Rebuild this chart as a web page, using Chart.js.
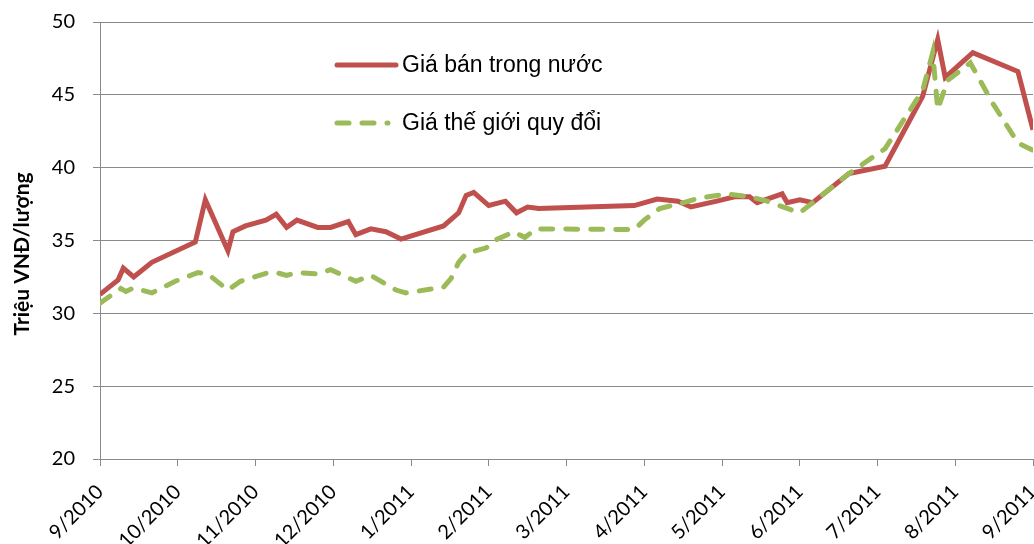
<!DOCTYPE html>
<html lang="vi">
<head>
<meta charset="utf-8">
<title>Giá vàng</title>
<script src="https://cdn.jsdelivr.net/npm/chart.js@4.4.1/dist/chart.umd.min.js"></script>
<style>
  html, body { margin: 0; padding: 0; background: #ffffff; overflow: hidden; }
  #wrap { width: 1034px; height: 544px; }
</style>
</head>
<body>
<div id="wrap"><canvas id="goldChart" width="1034" height="544"></canvas></div>
<script>
  // month labels on the x axis, one per tick
  const monthLabels = ["9/2010", "10/2010", "11/2010", "12/2010", "1/2011", "2/2011", "3/2011",
    "4/2011", "5/2011", "6/2011", "7/2011", "8/2011", "9/2011"];

  // Giá bán trong nước (triệu VNĐ/lượng)
  const domesticDates = ["2010-09-01", "2010-09-08", "2010-09-10", "2010-09-14", "2010-09-21", "2010-10-08",
    "2010-10-12", "2010-10-21", "2010-10-23", "2010-10-28", "2010-11-05", "2010-11-09", "2010-11-13",
    "2010-11-17", "2010-11-25", "2010-11-30", "2010-12-07", "2010-12-10", "2010-12-16", "2010-12-22",
    "2010-12-28", "2011-01-14", "2011-01-20", "2011-01-23", "2011-01-26", "2011-02-01", "2011-02-07",
    "2011-02-11", "2011-02-15", "2011-02-19", "2011-03-28", "2011-04-06", "2011-04-14", "2011-04-19",
    "2011-04-29", "2011-05-06", "2011-05-12", "2011-05-15", "2011-05-25", "2011-05-27", "2011-06-01",
    "2011-06-06", "2011-06-20", "2011-07-04", "2011-07-19", "2011-07-25", "2011-07-28", "2011-08-08",
    "2011-08-26", "2011-09-01"];
  const domesticPrices = [31.3, 32.3, 33.1, 32.5, 33.5, 34.9,
    37.8, 34.3, 35.6, 36.0, 36.4, 36.8, 35.9,
    36.4, 35.9, 35.9, 36.3, 35.4, 35.8, 35.6,
    35.1, 36.0, 36.9, 38.1, 38.3, 37.4, 37.7,
    36.9, 37.3, 37.2, 37.4, 37.85, 37.7, 37.3,
    37.7, 38.0, 38.0, 37.6, 38.2, 37.6, 37.8,
    37.6, 39.6, 40.1, 44.9, 48.8, 46.2, 47.9,
    46.6, 42.6];

  // Giá thế giới quy đổi (triệu VNĐ/lượng)
  const worldDates = ["2010-09-01", "2010-09-09", "2010-09-11", "2010-09-14", "2010-09-21", "2010-09-30",
    "2010-10-09", "2010-10-13", "2010-10-21", "2010-10-26", "2010-11-06", "2010-11-09", "2010-11-13",
    "2010-11-17", "2010-11-25", "2010-11-30", "2010-12-10", "2010-12-16", "2010-12-26", "2010-12-30",
    "2011-01-14", "2011-01-17", "2011-01-20", "2011-01-23", "2011-01-31", "2011-02-03", "2011-02-10",
    "2011-02-14", "2011-02-18", "2011-03-28", "2011-04-01", "2011-04-07", "2011-04-14", "2011-04-22",
    "2011-05-03", "2011-05-12", "2011-05-19", "2011-05-27", "2011-06-01", "2011-06-06", "2011-06-20",
    "2011-07-04", "2011-07-19", "2011-07-23", "2011-07-25", "2011-07-29", "2011-08-07", "2011-08-16",
    "2011-08-26", "2011-09-01"];
  const worldPrices = [30.7, 31.7, 31.5, 31.75, 31.4, 32.2,
    32.8, 32.7, 31.6, 32.2, 32.8, 32.8, 32.6,
    32.8, 32.7, 33.0, 32.2, 32.6, 31.6, 31.4,
    31.8, 32.4, 33.5, 34.1, 34.5, 35.0, 35.6,
    35.2, 35.8, 35.75, 36.4, 37.2, 37.5, 37.9,
    38.2, 38.0, 37.7, 37.2, 36.9, 37.6, 39.6,
    41.3, 45.3, 47.9, 44.0, 46.0, 47.2, 44.4,
    41.7, 41.2];

  const yAxisTitle = "Triệu VNĐ/lượng";
  const axisGray = "#8a8a8a";

  // position of a date on the month axis: 0 = 1/9/2010, 1 = 1/10/2010 ...
  function monthPos(dateStr) {
    const parts = dateStr.split("-").map(Number);
    const daysInMonth = new Date(parts[0], parts[1], 0).getDate();
    return (parts[0] - 2010) * 12 + (parts[1] - 9) + (parts[2] - 1) / daysInMonth;
  }

  function toPoints(dates, values) {
    return dates.map((d, i) => ({ x: monthPos(d), y: values[i] }));
  }

  // legend inside the plot and the rotated y title
  const overlayPlugin = {
    id: "overlay",
    afterDraw(chart) {
      const ctx = chart.ctx;
      const rowsY = [65, 123];
      ctx.save();
      chart.data.datasets.forEach((ds, i) => {
        ctx.beginPath();
        ctx.strokeStyle = ds.borderColor;
        ctx.lineWidth = ds.borderWidth;
        ctx.lineCap = "round";
        ctx.setLineDash(ds.borderDash || []);
        ctx.moveTo(337, rowsY[i]);
        ctx.lineTo(i === 0 ? 396 : 388, rowsY[i]);
        ctx.stroke();
        ctx.setLineDash([]);
        ctx.fillStyle = "#000000";
        ctx.font = "23px 'Liberation Sans', Arial, sans-serif";
        ctx.textAlign = "left";
        ctx.textBaseline = "middle";
        ctx.fillText(ds.label, 402, rowsY[i] + 1);
      });
      ctx.translate(22, 254);
      ctx.rotate(-Math.PI / 2);
      ctx.font = "bold 21px Lato, sans-serif";
      ctx.textAlign = "center";
      ctx.textBaseline = "middle";
      ctx.fillText(yAxisTitle, 0, 0);
      ctx.restore();
    },
  };

  new Chart(document.getElementById("goldChart"), {
    type: "line",
    data: {
      datasets: [
        {
          label: "Giá bán trong nước",
          data: toPoints(domesticDates, domesticPrices),
          borderColor: "#c0504d",
          borderWidth: 5,
          pointRadius: 0,
          tension: 0,
          order: 2,
        },
        {
          label: "Giá thế giới quy đổi",
          data: toPoints(worldDates, worldPrices),
          borderColor: "#9bbb59",
          borderWidth: 5,
          borderDash: [12, 13],
          borderCapStyle: "round",
          pointRadius: 0,
          tension: 0,
          order: 1,
        },
      ],
    },
    options: {
      responsive: false,
      animation: false,
      layout: { padding: { top: 22, right: 1, left: 0, bottom: 0 } },
      plugins: { legend: { display: false }, tooltip: { enabled: false } },
      scales: {
        x: {
          type: "linear",
          min: 0,
          max: 12,
          border: { color: axisGray, width: 1 },
          grid: { drawOnChartArea: false, drawTicks: true, tickLength: 7, color: axisGray },
          ticks: {
            stepSize: 1,
            autoSkip: false,
            minRotation: 45,
            maxRotation: 45,
            padding: 14,
            color: "#000000",
            font: { family: "Lato", size: 20 },
            callback: (value) => monthLabels[value],
          },
          afterFit(scale) {
            scale.height = 85;
            scale.paddingLeft = 0;
            scale.paddingRight = 0;
          },
        },
        y: {
          min: 20,
          max: 50,
          border: { color: axisGray, width: 1 },
          grid: { color: axisGray, tickLength: 7 },
          ticks: {
            stepSize: 5,
            padding: 18,
            color: "#000000",
            font: { family: "Lato", size: 20 },
          },
          afterFit(scale) {
            scale.width = 100;
            scale.paddingTop = 0;
            scale.paddingBottom = 0;
          },
        },
      },
    },
    plugins: [overlayPlugin],
  });
</script>
</body>
</html>
